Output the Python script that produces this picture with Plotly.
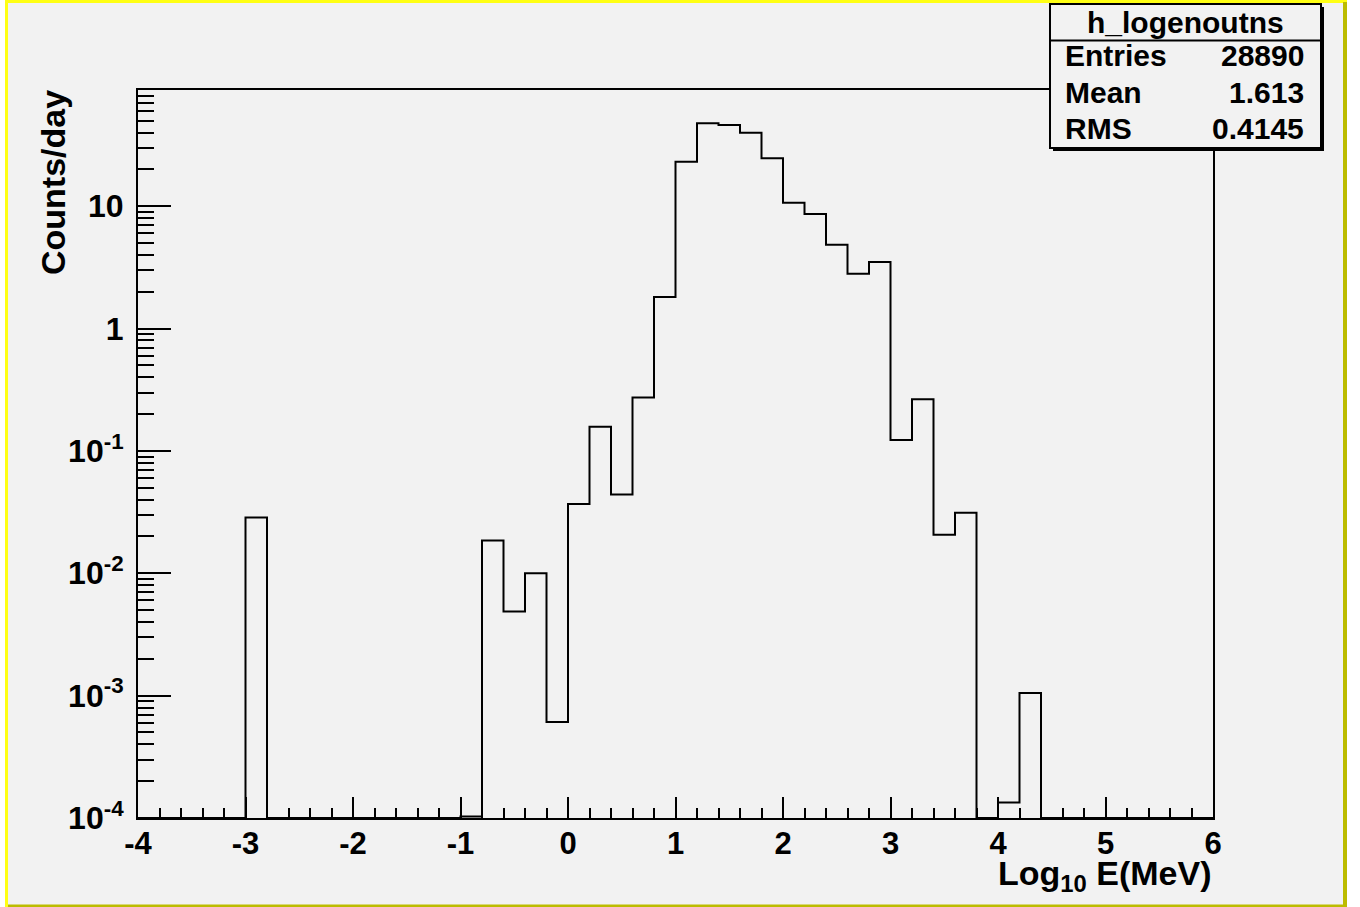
import plotly.graph_objects as go

# ---------------- data ----------------
hist_name = "h_logenoutns"
bin_edges = [-4.0, -3.8, -3.6, -3.4, -3.2, -3.0, -2.8, -2.6, -2.4, -2.2,
             -2.0, -1.8, -1.6, -1.4, -1.2, -1.0, -0.8, -0.6, -0.4, -0.2,
             0.0, 0.2, 0.4, 0.6, 0.8, 1.0, 1.2, 1.4, 1.6, 1.8,
             2.0, 2.2, 2.4, 2.6, 2.8, 3.0, 3.2, 3.4, 3.6, 3.8,
             4.0, 4.2, 4.4, 4.6, 4.8, 5.0, 5.2, 5.4, 5.6, 5.8, 6.0]
counts_per_day = [0, 0, 0, 0, 0, 0.0286, 0, 0, 0, 0,
                  0, 0, 0, 0, 0, 1.03e-4, 0.0185, 0.00487, 0.0100, 6.1e-4,
                  0.0369, 0.158, 0.0441, 0.273, 1.81, 23.1, 47.6, 46.1, 39.9, 24.7,
                  10.7, 8.64, 4.84, 2.81, 3.50, 0.123, 0.264, 0.0207, 0.0312, 0,
                  1.34e-4, 1.05e-3, 0, 0, 0, 0, 0, 0, 0, 0]
x_tick_vals = [-4, -3, -2, -1, 0, 1, 2, 3, 4, 5, 6]
x_tick_text = ["-4", "-3", "-2", "-1", "0", "1", "2", "3", "4", "5", "6"]
y_tick_vals = [1e-4, 1e-3, 1e-2, 1e-1, 1, 10]
y_tick_text = ["10<sup>-4</sup>", "10<sup>-3</sup>", "10<sup>-2</sup>",
               "10<sup>-1</sup>", "1", "10"]
stats_labels = ["Entries", "Mean", "RMS"]
stats_values = ["28890", "1.613", "0.4145"]
x_title = "Log<sub>10</sub> E(MeV)"
y_title = "Counts/day"

# ---------------- layout geometry ----------------
W, H = 1360, 907
ML, MR, MT, MB = 138, 147, 90, 89
PW, PH = W - ML - MR, H - MT - MB
Y_LOG_MIN, Y_LOG_MAX = -4, 1.95
FONT = "Liberation Sans, Arial, Helvetica, sans-serif"
BG = "#f2f2f2"


def px(x):
    return (x - ML) / PW


def py(y):
    return (H - MB - y) / PH


y_floor = 10 ** Y_LOG_MIN
y_plot = [max(v, y_floor) for v in counts_per_day]
y_plot = y_plot + [y_plot[-1]]

minor_y = [k * 10 ** d for d in range(-4, 2) for k in range(2, 10)
           if k * 10 ** d < 10 ** Y_LOG_MAX]

fig = go.Figure()
fig.add_trace(go.Scatter(
    x=bin_edges, y=y_plot, mode="lines",
    line=dict(color="black", width=2, shape="hv"),
    hoverinfo="skip", showlegend=False))

xtickfont = dict(family=FONT, size=31, color="black", weight="bold")
ytickfont = dict(family=FONT, size=32, color="black", weight="bold")

fig.update_layout(
    width=W, height=H,
    margin=dict(l=ML, r=MR, t=MT, b=MB, pad=0),
    paper_bgcolor=BG, plot_bgcolor=BG,
    showlegend=False,
    xaxis=dict(
        range=[bin_edges[0], bin_edges[-1]], showgrid=False, zeroline=False,
        showline=True, linecolor="black", linewidth=2, mirror=True,
        ticks="inside", ticklen=21, tickwidth=2, tickcolor="black",
        tickmode="array", tickvals=x_tick_vals, ticktext=x_tick_text,
        tickfont=xtickfont, ticklabelstandoff=-3,
        minor=dict(ticks="inside", ticklen=10, tickwidth=2, tickcolor="black",
                   dtick=0.2, tick0=-4, showgrid=False),
    ),
    yaxis=dict(
        type="log", range=[Y_LOG_MIN, Y_LOG_MAX], showgrid=False, zeroline=False,
        showline=True, linecolor="black", linewidth=2, mirror=True,
        ticks="inside", ticklen=33, tickwidth=2, tickcolor="black",
        tickmode="array", tickvals=y_tick_vals, ticktext=y_tick_text,
        tickfont=ytickfont, ticklabelstandoff=6,
        minor=dict(ticks="inside", ticklen=16, tickwidth=2, tickcolor="black",
                   tickmode="array", tickvals=minor_y, showgrid=False),
    ),
)

shapes = []
# canvas borders (ROOT style)
shapes.append(dict(type="rect", xref="paper", yref="paper", x0=px(0), x1=px(5),
                   y0=py(H), y1=py(0), fillcolor="white", line_width=0))
shapes.append(dict(type="rect", xref="paper", yref="paper", x0=px(1347), x1=px(W),
                   y0=py(H), y1=py(0), fillcolor="white", line_width=0))
shapes.append(dict(type="rect", xref="paper", yref="paper", x0=px(5), x1=px(1347),
                   y0=py(3), y1=py(0), fillcolor="#ffff14", line_width=0))
shapes.append(dict(type="rect", xref="paper", yref="paper", x0=px(5), x1=px(8),
                   y0=py(H), y1=py(0), fillcolor="#ffff14", line_width=0))
shapes.append(dict(type="rect", xref="paper", yref="paper", x0=px(1343), x1=px(1347),
                   y0=py(H), y1=py(2), fillcolor="#bcbc00", line_width=0))
shapes.append(dict(type="rect", xref="paper", yref="paper", x0=px(8), x1=px(1347),
                   y0=py(H), y1=py(904.5), fillcolor="#bcbc00", line_width=0))
# stats box
shapes.append(dict(type="rect", xref="paper", yref="paper", x0=px(1053), x1=px(1324),
                   y0=py(151), y1=py(7), fillcolor="black", line_width=0))
shapes.append(dict(type="rect", xref="paper", yref="paper", x0=px(1050), x1=px(1321),
                   y0=py(148), y1=py(4), fillcolor=BG,
                   line=dict(color="black", width=2)))
shapes.append(dict(type="line", xref="paper", yref="paper", x0=px(1050), x1=px(1321),
                   y0=py(40.5), y1=py(40.5), line=dict(color="black", width=2)))
fig.update_layout(shapes=shapes)

sfont = dict(family=FONT, size=30, color="black", weight="bold")
ann = []
ann.append(dict(text=hist_name, xref="paper", yref="paper", x=px(1185), y=py(22),
                xanchor="center", yanchor="middle", showarrow=False, font=sfont))
row_y = [56, 92, 128]
for lab, val, ry in zip(stats_labels, stats_values, row_y):
    ann.append(dict(text=lab, xref="paper", yref="paper", x=px(1063), y=py(ry),
                    xanchor="left", yanchor="middle", showarrow=False, font=sfont))
    ann.append(dict(text=val, xref="paper", yref="paper", x=px(1306), y=py(ry),
                    xanchor="right", yanchor="middle", showarrow=False, font=sfont))
tfont = dict(family=FONT, size=34, color="black", weight="bold")
ann.append(dict(text=x_title, xref="paper", yref="paper", x=px(1213), y=py(875),
                xanchor="right", yanchor="middle", showarrow=False, font=tfont))
ann.append(dict(text=y_title, xref="paper", yref="paper", x=px(53), y=py(183),
                xanchor="center", yanchor="middle", textangle=-90,
                showarrow=False, font=tfont))
fig.update_layout(annotations=ann)

fig.write_html(
    "out.html",
    config={"displayModeBar": False},
    post_script="document.body.style.margin='0';document.body.style.overflow='hidden';",
)
